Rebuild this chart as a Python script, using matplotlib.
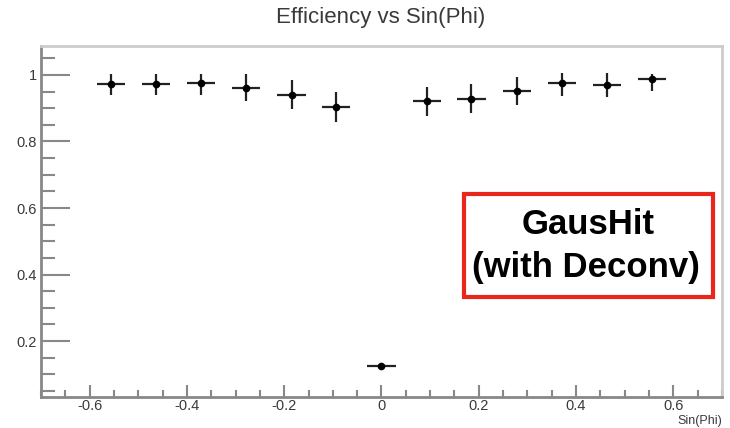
import matplotlib.pyplot as plt
from matplotlib.ticker import MultipleLocator
from matplotlib.patches import Rectangle

plt.rcParams['font.family'] = ['Liberation Sans', 'DejaVu Sans']

# efficiency per sin(phi) bin
sin_phi = [-0.556, -0.464, -0.371, -0.278, -0.185, -0.093, 0.0,
           0.093, 0.185, 0.278, 0.371, 0.464, 0.556]
eff = [0.972, 0.972, 0.977, 0.962, 0.940, 0.903, 0.126,
       0.922, 0.929, 0.953, 0.975, 0.970, 0.987]
err_lo = [0.032, 0.032, 0.037, 0.040, 0.042, 0.043, 0.003,
          0.045, 0.042, 0.043, 0.038, 0.035, 0.035]
err_hi = [0.030, 0.030, 0.025, 0.040, 0.045, 0.047, 0.003,
          0.043, 0.043, 0.042, 0.030, 0.035, 0.015]
x_half = 0.029

fig = plt.figure(figsize=(7.3, 4.28), dpi=100)
ax = fig.add_axes([0.0562, 0.0724, 0.9328, 0.8201])

ax.errorbar(sin_phi, eff, yerr=[err_lo, err_hi], xerr=x_half,
            fmt='o', color='black', ecolor='#222222', elinewidth=1.6,
            markersize=4.5, capsize=0)

ax.set_xlim(-0.7, 0.7)
ax.set_ylim(0.032, 1.087)

ax.xaxis.set_minor_locator(MultipleLocator(0.05))
ax.yaxis.set_minor_locator(MultipleLocator(0.05))
ax.set_xticks([-0.6, -0.4, -0.2, 0, 0.2, 0.4, 0.6])
ax.set_xticklabels(['-0.6', '-0.4', '-0.2', '0', '0.2', '0.4', '0.6'])
ax.set_yticks([0.2, 0.4, 0.6, 0.8, 1.0])
ax.set_yticklabels(['0.2', '0.4', '0.6', '0.8', '1'])

ax.tick_params(axis='y', which='major', direction='in', length=21, width=1.5,
               color='#888888', labelsize=10.5, labelcolor='#3a3a3a', pad=3)
ax.tick_params(axis='y', which='minor', direction='in', length=10, width=1.5,
               color='#888888')
ax.tick_params(axis='x', which='major', direction='in', length=9, width=1.5,
               color='#888888', labelsize=10.5, labelcolor='#3a3a3a', pad=1.5)
ax.tick_params(axis='x', which='minor', direction='in', length=5, width=1.5,
               color='#888888')

for side in ['left', 'bottom']:
    ax.spines[side].set_color('#888888')
    ax.spines[side].set_linewidth(2)
for side in ['top', 'right']:
    ax.spines[side].set_color('#cccccc')
    ax.spines[side].set_linewidth(2)

fig.text(722 / 730, 1 - 421 / 428, 'Sin(Phi)', ha='right', va='center',
         fontsize=9, color='#3a3a3a')

fig.text(381 / 730, 1 - 18 / 428, 'Efficiency vs Sin(Phi)', ha='center', va='center',
         fontsize=16, color='#3a3a3a')

# annotation box
ax.add_patch(Rectangle((464 / 730, 1 - 297 / 428), (713 - 464) / 730, (297 - 194) / 428,
                       transform=fig.transFigure, fill=False, edgecolor='#e8261c',
                       linewidth=3, zorder=5))
fig.text(588 / 730, 1 - 225 / 428, 'GausHit', ha='center', va='center',
         fontsize=25, fontweight='bold', color='black')
fig.text(586 / 730, 1 - 268 / 428, '(with Deconv)', ha='center', va='center',
         fontsize=25, fontweight='bold', color='black')

fig.savefig('out.png', dpi=100)
